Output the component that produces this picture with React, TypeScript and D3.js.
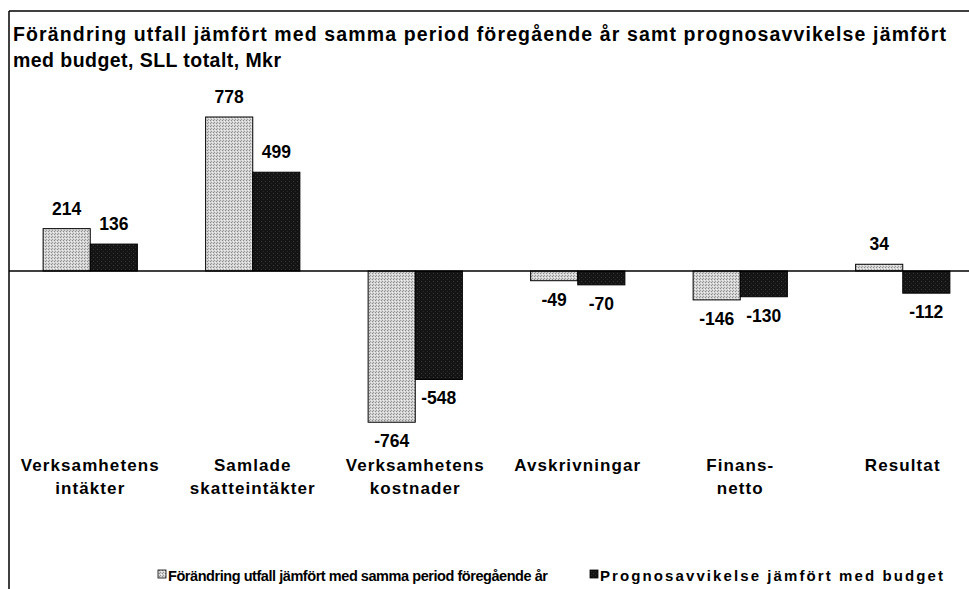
import React from "react";
import * as d3 from "d3";

const categories = [
  ["Verksamhetens", "intäkter"],
  ["Samlade", "skatteintäkter"],
  ["Verksamhetens", "kostnader"],
  ["Avskrivningar"],
  ["Finans-", "netto"],
  ["Resultat"],
];
const seriesNames = [
  "Förändring utfall jämfört med samma period föregående år",
  "Prognosavvikelse jämfört med budget",
];
const seriesA = [214, 778, -764, -49, -146, 34];
const seriesB = [136, 499, -548, -70, -130, -112];
const titleLines = [
  "Förändring utfall jämfört med samma period föregående år samt prognosavvikelse jämfört",
  "med budget, SLL totalt, Mkr",
];

const W = 969;
const H = 589;
const FONT = "'Liberation Sans', Arial, sans-serif";

export default function App() {
  const x0 = d3
    .scaleBand<number>()
    .domain(categories.map((_, i) => i))
    .range([9, 984])
    .paddingInner(0.42)
    .paddingOuter(0.21);
  const x1 = d3.scaleBand<number>().domain([0, 1]).range([0, x0.bandwidth()]);
  const y = d3.scaleLinear().domain([0, 778]).range([271, 117]);
  const series = [seriesA, seriesB];
  const fills = ["url(#lightPat)", "url(#darkPat)"];
  const titleLens = [933, 268];
  const legendX = [158, 590];
  const legendLens = [380, 343];
  const legendSizes = [14.5, 15];

  return (
    <svg
      width={W}
      height={H}
      style={{ position: "fixed", left: 0, top: 0, background: "#fff" }}
    >
      <defs>
        <pattern id="lightPat" width="3" height="3" patternUnits="userSpaceOnUse">
          <rect width="3" height="3" fill="#d4d4d4" />
          <rect x="0" y="0" width="1" height="1" fill="#8a8a8a" />
          <rect x="2" y="1" width="1" height="1" fill="#f0f0f0" />
          <rect x="1" y="2" width="1" height="1" fill="#9a9a9a" />
        </pattern>
        <pattern id="darkPat" width="4" height="4" patternUnits="userSpaceOnUse">
          <rect width="4" height="4" fill="#141414" />
          <rect x="1" y="1" width="1" height="1" fill="#3a3a3a" />
          <rect x="3" y="3" width="1" height="1" fill="#2a2a2a" />
        </pattern>
      </defs>
      {/* frame */}
      <line x1={9} y1={11} x2={W} y2={11} stroke="#000" strokeWidth={1.5} />
      <line x1={9} y1={11} x2={9} y2={H} stroke="#000" strokeWidth={1.5} />
      {titleLines.map((t, i) => (
        <text
          key={i}
          x={13}
          y={41 + i * 26}
          fontFamily={FONT}
          fontWeight="bold"
          fontSize={19.5}
          textLength={titleLens[i]}
          lengthAdjust="spacing"
          fill="#000"
        >
          {t}
        </text>
      ))}
      {categories.map((cat, ci) => (
        <g key={ci}>
          {series.map((s, si) => {
            const v = s[ci];
            const bx = (x0(ci) as number) + (x1(si) as number);
            const bw = x1.bandwidth();
            const top = Math.min(y(v), y(0));
            const h = Math.abs(y(v) - y(0));
            const cx = bx + bw / 2;
            const ly = v >= 0 ? y(v) - 14 : y(v) + 25;
            return (
              <g key={si}>
                <rect
                  x={bx}
                  y={top}
                  width={bw}
                  height={h}
                  fill={fills[si]}
                  stroke="#000"
                  strokeWidth={1}
                />
                <text
                  x={cx}
                  y={ly}
                  textAnchor="middle"
                  fontFamily={FONT}
                  fontWeight="bold"
                  fontSize={17.5}
                  fill="#000"
                >
                  {v}
                </text>
              </g>
            );
          })}
          {cat.map((line, li) => (
            <text
              key={li}
              x={(x0(ci) as number) + x0.bandwidth() / 2}
              y={471 + li * 23}
              textAnchor="middle"
              fontFamily={FONT}
              fontWeight="bold"
              fontSize={17}
              letterSpacing={1.1}
              fill="#000"
            >
              {line}
            </text>
          ))}
        </g>
      ))}
      {/* zero line */}
      <line x1={9} y1={y(0)} x2={W} y2={y(0)} stroke="#000" strokeWidth={1.5} />
      {/* legend */}
      {seriesNames.map((n, i) => {
        const lx = legendX[i];
        return (
          <g key={i}>
            <rect
              x={lx}
              y={570}
              width={8}
              height={8}
              fill={fills[i]}
              stroke="#000"
              strokeWidth={0.8}
            />
            <text
              x={lx + 10}
              y={581}
              fontFamily={FONT}
              fontWeight="bold"
              fontSize={legendSizes[i]}
              textLength={legendLens[i]}
              lengthAdjust="spacing"
              fill="#000"
            >
              {n}
            </text>
          </g>
        );
      })}
    </svg>
  );
}
